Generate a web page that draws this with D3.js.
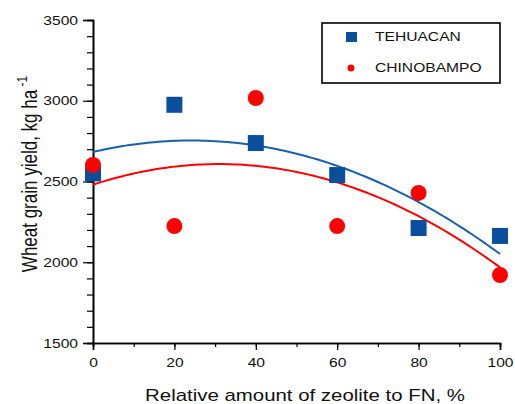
<!DOCTYPE html>
<html>
<head>
<meta charset="utf-8">
<script src="https://cdn.jsdelivr.net/npm/d3@7"></script>
<style>
body { margin: 0; background: #fff; }
text { font-family: "Liberation Sans", Arial, sans-serif; fill: #111; }
</style>
</head>
<body>
<div id="chart"></div>
<script>
// zeolite share (%) and yields
var zeolite = [0, 20, 40, 60, 80, 100];
var tehuacan = [2550, 2975, 2738, 2540, 2212, 2163];
var chinobampo = [2602, 2224, 3017, 2224, 2429, 1921];
var xTicks = [0, 20, 40, 60, 80, 100];
var yTicks = [1500, 2000, 2500, 3000, 3500];

var svgWidth = 515;
var svgHeight = 404;
var margin = { top: 20, right: 15, bottom: 61, left: 93 };
var width = 500 - margin.left;
var height = 343 - margin.top;
var stretch = 1.2; // the original figure is a bit wide

var blue = "#0a4f9e";
var red = "#ff0000";

var svg = d3.select("#chart")
    .append("svg")
    .attr("width", svgWidth)
    .attr("height", svgHeight);

var chartGroup = svg.append("g")
    .attr("transform", `translate(${margin.left}, ${margin.top})`);

var xScale = d3.scaleLinear().domain([0, 100]).range([0, width]);
var yScale = d3.scaleLinear().domain([1500, 3500]).range([height, 0]);

// least squares quadratic fit y = a + b x + c x^2
function quadFit(xs, ys) {
    var n = xs.length, s = [0, 0, 0, 0, 0], t = [0, 0, 0];
    for (var i = 0; i < n; i++) {
        var p = 1;
        for (var k = 0; k < 5; k++) { s[k] += p; if (k < 3) t[k] += p * ys[i]; p *= xs[i]; }
    }
    var m = [[s[0], s[1], s[2], t[0]], [s[1], s[2], s[3], t[1]], [s[2], s[3], s[4], t[2]]];
    for (var c = 0; c < 3; c++) {
        for (var r = c + 1; r < 3; r++) {
            var f = m[r][c] / m[c][c];
            for (var j = c; j < 4; j++) m[r][j] -= f * m[c][j];
        }
    }
    var res = [0, 0, 0];
    for (var r2 = 2; r2 >= 0; r2--) {
        var v = m[r2][3];
        for (var j2 = r2 + 1; j2 < 3; j2++) v -= m[r2][j2] * res[j2];
        res[r2] = v / m[r2][r2];
    }
    return function(x) { return res[0] + res[1] * x + res[2] * x * x; };
}

// axes: major and minor ticks
var yMinor = d3.axisLeft(yScale).tickValues(d3.range(1500, 3501, 100)).tickSize(6).tickFormat("");
var yMajor = d3.axisLeft(yScale).tickValues(yTicks).tickSize(10).tickPadding(5).tickFormat(d3.format("d"));
var xMinor = d3.axisBottom(xScale).tickValues(d3.range(0, 101, 10)).tickSize(4).tickFormat("");
var xMajor = d3.axisBottom(xScale).tickValues(xTicks).tickSize(7).tickPadding(8).tickFormat(d3.format("d"));

[chartGroup.append("g").call(yMinor), chartGroup.append("g").call(yMajor),
 chartGroup.append("g").attr("transform", `translate(0, ${height})`).call(xMinor),
 chartGroup.append("g").attr("transform", `translate(0, ${height})`).call(xMajor)]
    .forEach(function(g) {
        g.select(".domain").attr("stroke", "#000").attr("stroke-width", 1.6);
        g.selectAll(".tick line").attr("stroke", "#000").attr("stroke-width", 1.2);
        g.selectAll(".tick text").style("font-size", "13px").attr("fill", "#111")
            .style("font-family", "'Liberation Sans', Arial, sans-serif");
    });

// fitted curves
var line = d3.line().x(d => xScale(d[0])).y(d => yScale(d[1]));
var series = [
    { name: "TEHUACAN", values: tehuacan, color: "#1760ad" },
    { name: "CHINOBAMPO", values: chinobampo, color: red }
];
series.forEach(function(s) {
    var f = quadFit(zeolite, s.values);
    var pts = d3.range(0, 100.5, 1).map(x => [x, f(x)]);
    chartGroup.append("path")
        .datum(pts)
        .attr("d", line)
        .attr("fill", "none")
        .attr("stroke", s.color)
        .attr("stroke-width", 2);
});

// points
chartGroup.selectAll(".sq")
    .data(zeolite)
    .enter()
    .append("rect")
    .attr("x", d => xScale(d) - 8)
    .attr("y", (d, i) => yScale(tehuacan[i]) - 8)
    .attr("width", 16)
    .attr("height", 16)
    .attr("fill", blue);

chartGroup.selectAll(".dot")
    .data(zeolite)
    .enter()
    .append("circle")
    .attr("cx", d => xScale(d))
    .attr("cy", (d, i) => yScale(chinobampo[i]))
    .attr("r", 8)
    .attr("fill", red);

// legend
var legend = svg.append("g");
legend.append("rect")
    .attr("x", 322).attr("y", 23).attr("width", 178).attr("height", 60)
    .attr("fill", "#fff").attr("stroke", "#000").attr("stroke-width", 1.6);
legend.append("rect")
    .attr("x", 346).attr("y", 32).attr("width", 11).attr("height", 10)
    .attr("fill", blue);
legend.append("circle")
    .attr("cx", 351).attr("cy", 68).attr("r", 3.5)
    .attr("fill", red);
legend.append("text")
    .attr("x", 375).attr("y", 41).style("font-size", "13px").text("TEHUACAN");
legend.append("text")
    .attr("x", 375).attr("y", 72).style("font-size", "13px").text("CHINOBAMPO");

// axis titles
svg.append("text")
    .attr("x", 305).attr("y", 401)
    .attr("text-anchor", "middle")
    .style("font-size", "17px")
    .text("Relative amount of zeolite to FN, %");

var yTitle = svg.append("text")
    .attr("transform", `translate(37, 174) scale(1.25, 1) rotate(-90)`)
    .attr("text-anchor", "middle")
    .style("font-size", "17px");
yTitle.append("tspan").text("Wheat grain yield, kg ha");
yTitle.append("tspan").attr("dy", -8).style("font-size", "12px").text(" -1");

// widen horizontal text like the original
svg.selectAll("text").filter(function() { return this !== yTitle.node(); })
    .each(function() {
        var len = this.getComputedTextLength();
        d3.select(this).attr("textLength", len * stretch).attr("lengthAdjust", "spacingAndGlyphs");
    });
</script>
</body>
</html>
